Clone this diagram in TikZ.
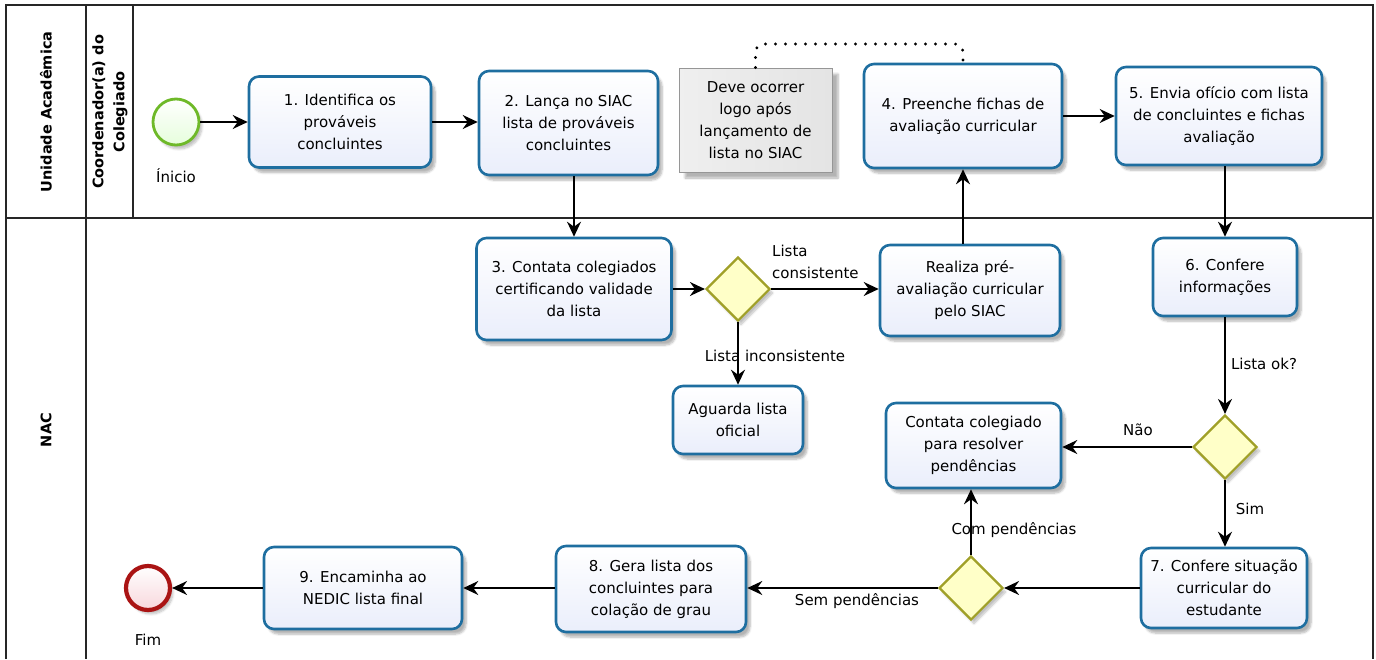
\documentclass[tikz,border=0pt]{standalone}
\usepackage{fontspec}
\setmainfont{DejaVu Sans}
\usetikzlibrary{arrows.meta,shapes.geometric,shadows.blur}
\definecolor{taskborder}{RGB}{30,110,160}
\definecolor{taskfill}{RGB}{234,238,251}
\definecolor{gwborder}{RGB}{160,160,40}
\definecolor{gwfill}{RGB}{255,255,200}
\definecolor{startborder}{RGB}{110,185,40}
\definecolor{startfill}{RGB}{240,250,210}
\definecolor{endborder}{RGB}{170,20,20}
\definecolor{endfill}{RGB}{248,215,220}
\definecolor{annfill}{RGB}{228,228,228}
\definecolor{annborder}{RGB}{150,150,150}
\tikzset{
  lane/.style={line width=1.4pt, draw=black!85},
  task/.style={rectangle, rounded corners=10pt, draw=taskborder, line width=2.6pt,
    top color=white, bottom color=taskfill, align=center, font=\fontsize{15}{22}\selectfont,
    inner sep=2pt, blur shadow={shadow xshift=4pt, shadow yshift=-5pt, shadow blur steps=6, shadow opacity=30}},
  gw/.style={diamond, draw=gwborder, line width=2.2pt, fill=gwfill, minimum width=64pt, minimum height=64pt,
    inner sep=0pt, blur shadow={shadow xshift=3pt, shadow yshift=-4pt, shadow blur steps=6, shadow opacity=25}},
  flow/.style={line width=1.6pt, -{Stealth[length=15pt,width=14pt,inset=5pt]}},
  lbl/.style={font=\fontsize{15}{22}\selectfont, inner sep=1pt},
  lanelbl/.style={font=\bfseries\fontsize{14.5}{21}\selectfont, rotate=90, align=center},
  dotline/.style={line width=3.2pt, line cap=round, dash pattern=on 0pt off 10pt, rounded corners=8pt}
}
\begin{document}
\begin{tikzpicture}[x=1pt,y=-1pt]
\useasboundingbox (0,0) rectangle (1376,659);
% pool and lanes
\draw[lane] (6,659) -- (6,5) -- (1373,5) -- (1373,659);
\draw[lane] (6,218) -- (1373,218);
\draw[lane] (86,5) -- (86,659);
\draw[lane] (133,5) -- (133,218);
\node[lanelbl] (laneUA) at (46,112) {Unidade Acadêmica};
\node[lanelbl] (laneCC) at (110,112) {Coordenador(a) do\\Colegiado};
\node[lanelbl] (laneNAC) at (46,430) {NAC};

% events
\node[circle, draw=startborder, line width=2.8pt, top color=white, bottom color=startfill!80!green!40,
  minimum size=46pt, inner sep=0pt,
  blur shadow={shadow xshift=3pt, shadow yshift=-4pt, shadow blur steps=6, shadow opacity=25}] (start) at (176,122) {};
\node[lbl] (startl) at (176,176) {Ínicio};
\node[circle, draw=endborder, line width=4.2pt, top color=white, bottom color=endfill,
  minimum size=44pt, inner sep=0pt,
  blur shadow={shadow xshift=3pt, shadow yshift=-4pt, shadow blur steps=6, shadow opacity=25}] (end) at (148,588) {};
\node[lbl] (endl) at (148,640) {Fim};

% tasks
\node[task, minimum width=182pt, minimum height=91pt] (t1) at (340,122) {1. Identifica os\\prováveis\\concluintes};
\node[task, minimum width=179pt, minimum height=104pt] (t2) at (568.5,123) {2. Lança no SIAC\\lista de prováveis\\concluintes};
\node[rectangle, draw=annborder, line width=1pt, top color=white, bottom color=annfill, left color=annfill!60, right color=annfill,
  minimum width=153pt, minimum height=104pt, align=center, font=\fontsize{15}{22}\selectfont,
  blur shadow={shadow xshift=6pt, shadow yshift=-6pt, shadow blur steps=6, shadow opacity=30}] (ann) at (755.5,120)
  {Deve ocorrer\\logo após\\lançamento de\\lista no SIAC};
\node[task, minimum width=198pt, minimum height=104pt] (t4) at (963,116) {4. Preenche fichas de\\avaliação curricular};
\node[task, minimum width=206pt, minimum height=98pt] (t5) at (1219,116) {5. Envia ofício com lista\\de concluintes e fichas\\avaliação};
\node[task, minimum width=195pt, minimum height=102pt] (t3) at (574,289) {3. Contata colegiados\\certificando validade\\da lista};
\node[gw] (g1) at (738,289) {};
\node[task, minimum width=180pt, minimum height=91pt] (pre) at (970,290.5) {Realiza pré-\\avaliação curricular\\pelo SIAC};
\node[task, minimum width=144pt, minimum height=78pt] (t6) at (1225,277) {6. Confere\\informações};
\node[task, minimum width=130pt, minimum height=68pt] (ag) at (738,420) {Aguarda lista\\oficial};
\node[gw] (g2) at (1225,447) {};
\node[task, minimum width=175pt, minimum height=85pt] (cc) at (973.5,445.5) {Contata colegiado\\para resolver\\pendências};
\node[task, minimum width=166pt, minimum height=80pt] (t7) at (1224,588) {7. Confere situação\\curricular do\\estudante};
\node[gw] (g3) at (971,588) {};
\node[task, minimum width=190pt, minimum height=86pt] (t8) at (651,589) {8. Gera lista dos\\concluintes para\\colação de grau};
\node[task, minimum width=198pt, minimum height=82pt] (t9) at (363,588) {9. Encaminha ao\\NEDIC lista final};

% association
\draw[dotline] (ann.north) -- (ann.north |- 0,44) -- (t4.north |- 0,44) -- (t4.north);

% flows
\draw[flow] (start.east) -- (t1.west |- start.east);
\draw[flow] (t1.east) -- (t2.west |- t1.east);
\draw[flow] (t3.north |- t2.south) -- (t3.north);
\draw[flow] (t3.east) -- (g1.west);
\draw[flow] (g1.east) -- (pre.west |- g1.east);
\draw[flow] (g1.south) -- (ag.north);
\draw[flow] (t4.south |- pre.north) -- (t4.south);
\draw[flow] (t4.east) -- (t5.west |- t4.east);
\draw[flow] (t6.north |- t5.south) -- (t6.north);
\draw[flow] (t6.south) -- (g2.north);
\draw[flow] (g2.west) -- (cc.east |- g2.west);
\draw[flow] (g2.south) -- (g2.south |- t7.north);
\draw[flow] (t7.west |- g3.east) -- (g3.east);
\draw[flow] (g3.north) -- (g3.north |- cc.south);
\draw[flow] (g3.west) -- (t8.east |- g3.west);
\draw[flow] (t8.west |- t9.east) -- (t9.east);
\draw[flow] (t9.west) -- (end.east);

% labels
\node[lbl, align=left, anchor=west] (lc) at (771,262) {Lista\\consistente};
\node[lbl] (li) at (775,356) {Lista inconsistente};
\node[lbl] (lok) at (1264,364) {Lista ok?};
\node[lbl] (lnao) at (1138,430) {Não};
\node[lbl] (lsim) at (1250,509) {Sim};
\node[lbl] (lcom) at (1014,530) {Com pendências};
\node[lbl] (lsem) at (857,601) {Sem pendências};
\end{tikzpicture}
\end{document}
